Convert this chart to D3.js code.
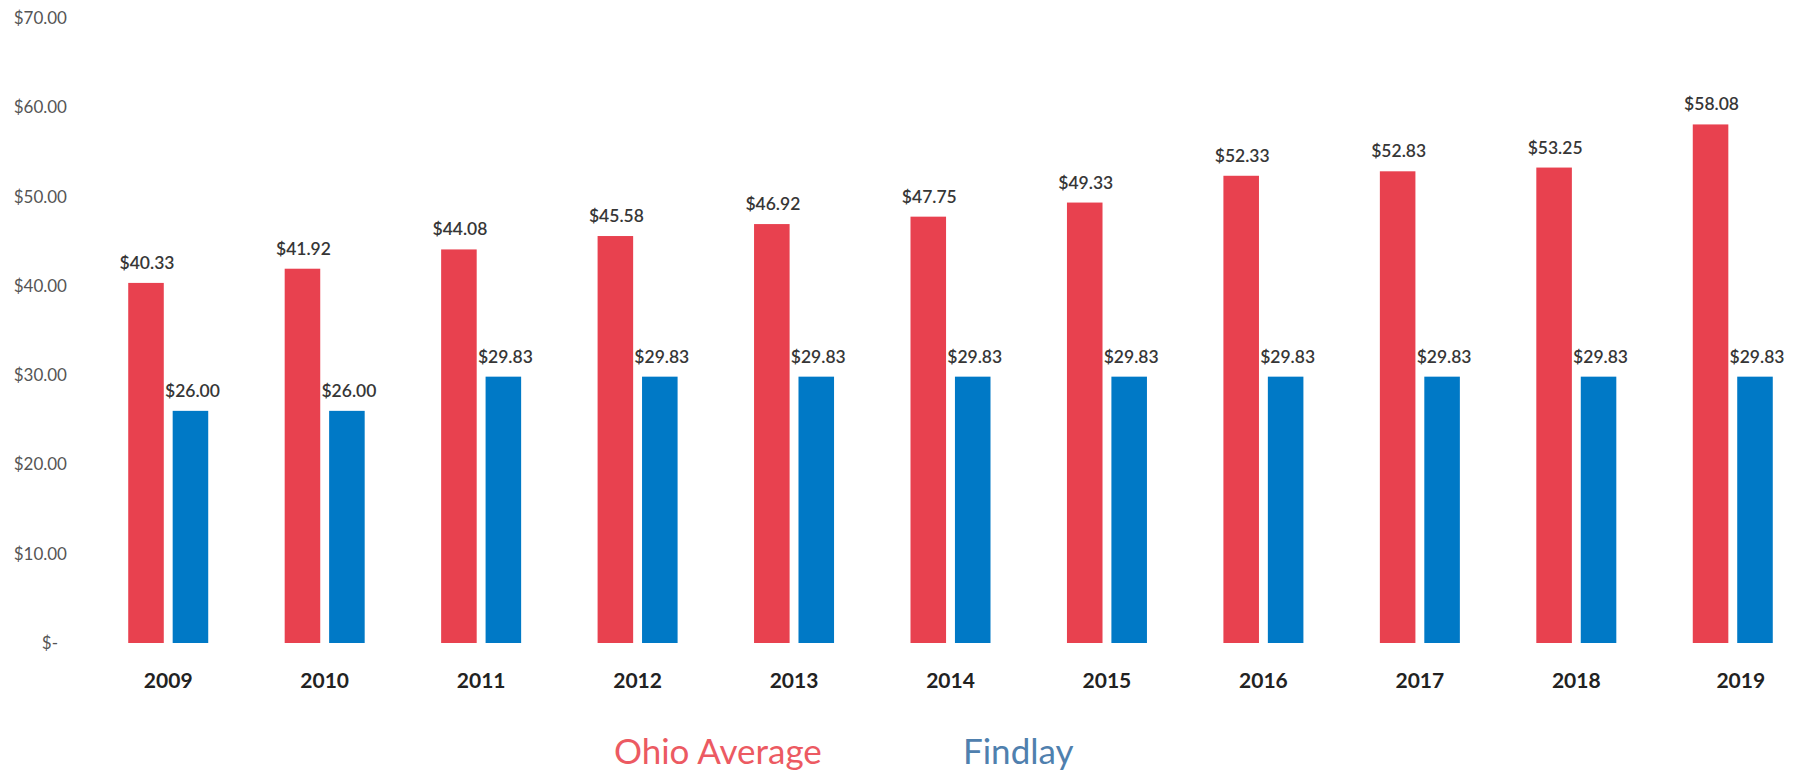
<!DOCTYPE html>
<html>
<head>
<meta charset="utf-8">
<script src="https://cdn.jsdelivr.net/npm/d3@7"></script>
<style>
  html, body { margin: 0; padding: 0; background: #fff; }
  svg text { font-family: Lato, "Open Sans", sans-serif; }
</style>
</head>
<body>
<div id="chart"></div>
<script>
const years = ['2009', '2010', '2011', '2012', '2013', '2014', '2015', '2016', '2017', '2018', '2019'];
const ohioAverage = [40.33, 41.92, 44.08, 45.58, 46.92, 47.75, 49.33, 52.33, 52.83, 53.25, 58.08];
const findlay = [26.00, 26.00, 29.83, 29.83, 29.83, 29.83, 29.83, 29.83, 29.83, 29.83, 29.83];
const seriesNames = ['Ohio Average', 'Findlay'];
const yTicks = [0, 10, 20, 30, 40, 50, 60, 70];

const width = 1796;
const height = 774;
const colors = { 'Ohio Average': '#e8414f', 'Findlay': '#0079c6' };
const legendColors = { 'Ohio Average': '#ec5a62', 'Findlay': '#4f80ae' };

const rows = years.map((yr, i) => ({ year: yr, values: [ohioAverage[i], findlay[i]] }));

const svg = d3.select('#chart').append('svg')
  .attr('width', width)
  .attr('height', height);

const y = d3.scaleLinear()
  .domain([0, 70])
  .range([643, 18]);

const x0 = d3.scaleBand()
  .domain(years)
  .range([90, 1811]);

const x1 = d3.scaleBand()
  .domain(seriesNames)
  .range([0, 80])
  .paddingInner(0.2);

const groupOffset = (x0.bandwidth() - 80) / 2;

// y tick labels (no axis line)
const fmt = d3.format('.2f');
svg.append('g').selectAll('text')
  .data(yTicks)
  .enter()
  .append('text')
  .attr('x', d => d === 0 ? 58 : 67)
  .attr('y', d => y(d))
  .attr('dy', '0.35em')
  .attr('text-anchor', 'end')
  .attr('fill', '#555')
  .style('font-size', '17px')
  .text(d => d === 0 ? '$-' : `$${fmt(d)}`);

const groups = svg.selectAll('.year-group')
  .data(rows)
  .enter()
  .append('g')
  .attr('class', 'year-group')
  .attr('transform', d => `translate(${x0(d.year) + groupOffset},0)`);

const bars = groups.selectAll('rect')
  .data(d => d.values.map((v, i) => ({ name: seriesNames[i], value: v })))
  .enter();

bars.append('rect')
  .attr('x', d => x1(d.name))
  .attr('y', d => y(d.value))
  .attr('width', x1.bandwidth())
  .attr('height', d => y(0) - y(d.value))
  .attr('fill', d => colors[d.name]);

bars.append('text')
  .attr('x', d => x1(d.name) + x1.bandwidth() / 2 + (d.name === 'Findlay' ? 2 : 1))
  .attr('y', d => y(d.value) - 14)
  .attr('text-anchor', 'middle')
  .attr('fill', '#363636')
  .style('font-size', '17.5px')
  .style('font-weight', 600)
  .text(d => `$${fmt(d.value)}`);

// year labels
svg.append('g').selectAll('text')
  .data(years)
  .enter()
  .append('text')
  .attr('x', d => x0(d) + x0.bandwidth() / 2 + (d === '2019' ? 8 : 0))
  .attr('y', 688)
  .attr('text-anchor', 'middle')
  .attr('fill', '#222')
  .style('font-size', '21px')
  .style('font-weight', 700)
  .text(d => d);

// legend
const legendX = { 'Ohio Average': 614, 'Findlay': 963 };
svg.append('g').selectAll('text')
  .data(seriesNames)
  .enter()
  .append('text')
  .attr('x', d => legendX[d])
  .attr('y', 764)
  .attr('fill', d => legendColors[d])
  .style('font-size', '35px')
  .text(d => d);
</script>
</body>
</html>
